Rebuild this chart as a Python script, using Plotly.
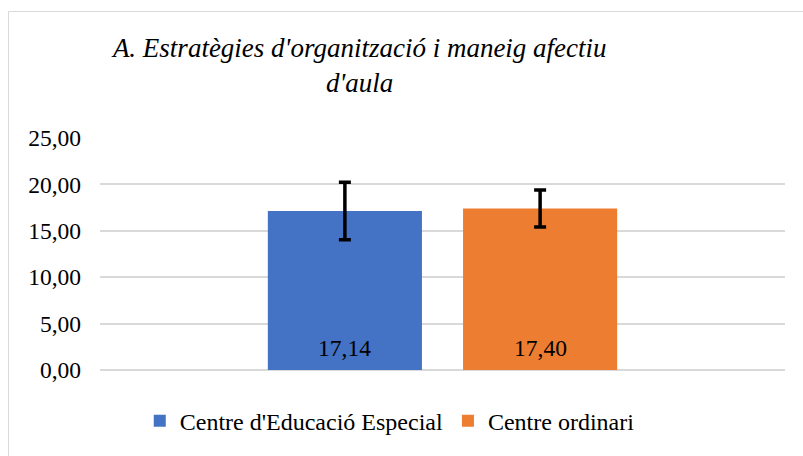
import plotly.graph_objects as go

# Mean scores and their spread for each school type
series_names = ["Centre d'Educació Especial", "Centre ordinari"]
means = [17.14, 17.40]
errors = [3.1, 2.0]
colors = ["#4472C4", "#ED7D31"]

y_ticks = [0, 5, 10, 15, 20, 25]
title_text = "A. Estratègies d'organització i maneig afectiu<br>d'aula"

FONT = "Liberation Serif, Times New Roman, serif"
BAR_WIDTH = 0.225
BAR_OFFSETS = [-0.255, 0.03]


def fmt(v):
    return f"{v:.2f}".replace(".", ",")


fig = go.Figure()
for name, m, e, c, off in zip(series_names, means, errors, colors, BAR_OFFSETS):
    fig.add_trace(go.Bar(
        name=name, x=[0], y=[m], width=BAR_WIDTH, offset=off,
        marker=dict(color=c, line=dict(width=0)),
        error_y=dict(type="data", array=[e], visible=True,
                     color="black", thickness=3.5, width=6),
    ))

# value labels sitting near the base of each bar
for m, off in zip(means, BAR_OFFSETS):
    fig.add_annotation(x=off + BAR_WIDTH / 2, y=0, xref="x", yref="y",
                       text=fmt(m), showarrow=False, yanchor="bottom",
                       yshift=7, font=dict(family=FONT, size=23.5, color="black"))

fig.update_layout(
    width=803, height=456,
    margin=dict(l=100, r=18, t=138, b=84),
    paper_bgcolor="white", plot_bgcolor="white",
    font=dict(family=FONT, color="black"),
    separators=",.",
    barmode="overlay",
    showlegend=True,
    title=dict(text=title_text, x=0.448, xanchor="center",
               y=0.876, yanchor="top", yref="container",
               font=dict(family=FONT, size=27, color="black", style="italic")),
    legend=dict(orientation="h", x=0.423, xanchor="center", y=-0.123,
                yanchor="top", font=dict(family=FONT, size=24, color="black"),
                itemclick=False),
    xaxis=dict(range=[-0.5, 0.5], showticklabels=False, showgrid=False,
               zeroline=False, showline=False, fixedrange=True),
    yaxis=dict(range=[0, 25], tickvals=y_ticks, tickformat=".2f",
               showgrid=True, gridcolor="#d9d9d9", gridwidth=1.5,
               zeroline=True, zerolinecolor="#d9d9d9", zerolinewidth=1.5,
               showline=False, ticks="", ticklabelstandoff=18,
               tickfont=dict(family=FONT, size=23.5, color="black")),
    shapes=[dict(type="rect", xref="paper", yref="paper",
                 x0=-0.1336, x1=1.1, y0=-0.45, y1=1.545,
                 line=dict(color="#d9d9d9", width=1), layer="below")],
)

fig.write_html("out.html")
